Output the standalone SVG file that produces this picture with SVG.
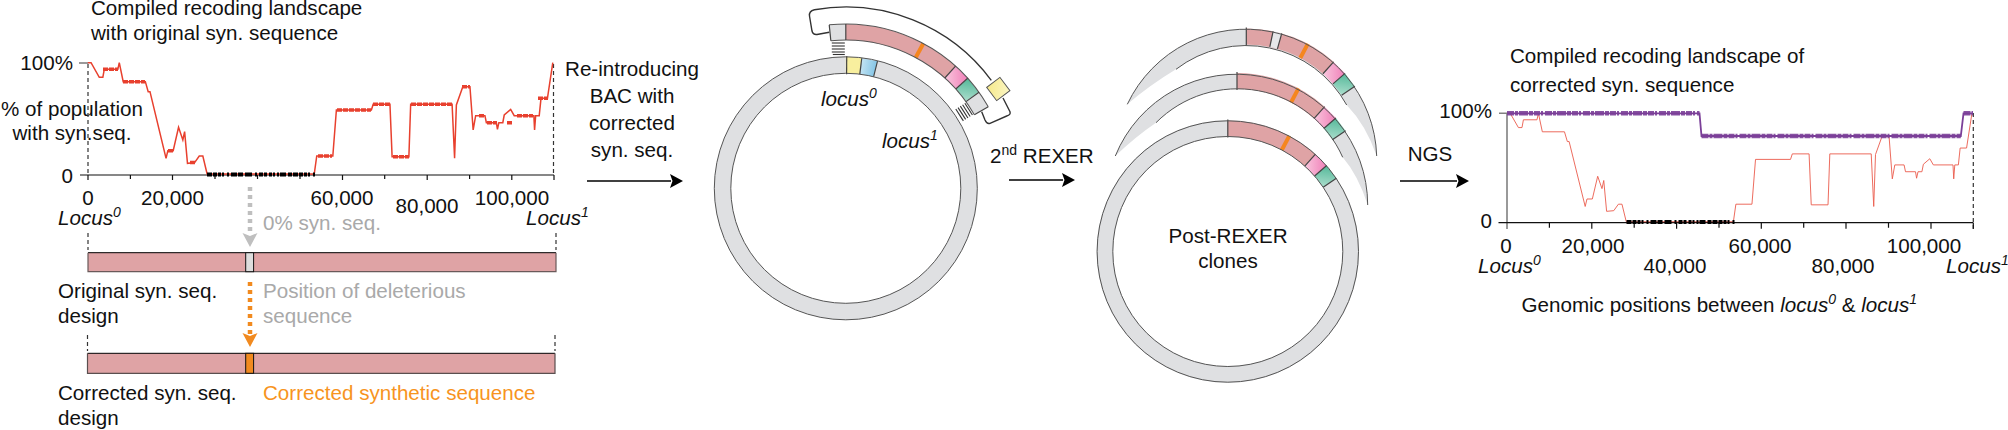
<svg xmlns="http://www.w3.org/2000/svg" xmlns:xlink="http://www.w3.org/1999/xlink" width="2008" height="430" viewBox="0 0 2008 430">
<style>
text{font-family:"Liberation Sans",Arial,sans-serif;font-size:20.6px;fill:#111}
.it{font-style:italic}
.gt{fill:#a9a9a9}
.ot{fill:#f7941e}
.m{text-anchor:middle}
.e{text-anchor:end}
.red{fill:none;stroke:#e8402e;vector-effect:non-scaling-stroke}
.seg{fill:none}
.edge{fill:none;stroke:#555;stroke-width:1}
.sep{stroke:#444;stroke-width:1.2}
.ax{stroke:#111;stroke-width:1.2;fill:none}
.dash{stroke:#333;stroke-width:1.2;stroke-dasharray:4 3;fill:none}
.gax{stroke:#808080;stroke-width:1.6;fill:none}
.ring{fill:none;stroke:#dfe0e2;stroke-width:16.5}
.bar{fill:#dfa3a5}
.arrow{stroke:#000;stroke-width:1.6;fill:none;marker-end:url(#ah)}
</style>
<defs>
<marker id="ah" markerUnits="userSpaceOnUse" markerWidth="14" markerHeight="16" refX="1" refY="7.5" orient="auto"><path d="M0 0.5L13 7.5L0 14.5L2.5 7.5Z" fill="#000"/></marker>
<marker id="gh" markerUnits="userSpaceOnUse" markerWidth="16" markerHeight="16" refX="1" refY="8" orient="auto"><path d="M0 0.5L14 8L0 15.5L3 8Z" fill="#bfbfbf"/></marker>
<marker id="oh" markerUnits="userSpaceOnUse" markerWidth="16" markerHeight="16" refX="1" refY="8" orient="auto"><path d="M0 0.5L14 8L0 15.5L3 8Z" fill="#f18a1f"/></marker>
<linearGradient id="pk" x1="1" y1="0" x2="0" y2="1"><stop offset="0" stop-color="#f07fb8"/><stop offset="1" stop-color="#f9c9de"/></linearGradient>
<linearGradient id="gr" x1="0" y1="0" x2="1" y2="1"><stop offset="0" stop-color="#54b899"/><stop offset="1" stop-color="#aedfce"/></linearGradient>
<linearGradient id="bl" x1="0" y1="0" x2="1" y2="0"><stop offset="0" stop-color="#c4e4f3"/><stop offset="1" stop-color="#84c5e6"/></linearGradient>
<linearGradient id="yl" x1="0" y1="0" x2="1" y2="1"><stop offset="0" stop-color="#f6e98a"/><stop offset="1" stop-color="#fbf6c4"/></linearGradient>
<path id="blk" d="M-8 -130.7L8 -130.7L7 -114.8L-7 -114.8Z"/>
<path id="blkI" d="M-8.6 -163.8L8.6 -163.8L7.75 -147.8L-7.75 -147.8Z"/>
<path id="landscape" class="red" d="M246 188L255 188L278 232L288 232L292 208L330 208L334 188L345 245L407 245L415 275L420 275L465 475L470 452L485 452L500 382L512 420L517 395L525 490L545 488L558 468L568 468L580 522L880 522L887 468L932 468L942 330L1040 330L1045 313L1092 313L1098 470L1145 470L1150 313L1266 313L1273 475L1278 315L1296 260L1316 260L1325 390L1332 347L1358 347L1362 368L1390 368L1393 388L1397 368L1408 368L1412 345L1430 328L1440 347L1495 347L1497 390L1500 347L1510 347L1515 295L1533 295L1548 188"/>
<g id="ringSegs">
<circle class="seg" r="123" stroke="#dfa3a5" stroke-width="16" pathLength="360" stroke-dasharray="42 318" transform="rotate(-90)"/>
<rect x="-2" y="-131" width="4" height="16" fill="#f5861f" transform="rotate(28)"/>
<use href="#blk" fill="url(#pk)" transform="rotate(45.5)"/>
<use href="#blk" fill="url(#gr)" transform="rotate(52.5)"/>
<g class="sep"><line y1="-132" y2="-114" /><line y1="-131" y2="-115" transform="rotate(42)"/><line y1="-131" y2="-115" transform="rotate(49)"/><line y1="-131" y2="-115" transform="rotate(56)"/></g>
</g>
</defs>
<rect width="2008" height="430" fill="#fff"/>

<g id="chart-original">
<text x="91" y="15">Compiled recoding landscape</text>
<text x="91" y="40">with original syn. sequence</text>
<text class="e" x="73" y="70">100%</text>
<text class="e" x="73" y="183">0</text>
<text class="m" x="72" y="116">% of population</text>
<text class="m" x="72" y="140">with syn.seq.</text>
<path class="gax" d="M79 63H88"/>
<path class="dash" d="M88 64V175M553.5 64V175"/>
<path class="ax" d="M80 175H554"/>
<path class="ax" d="M88 175v5M130.400 175v4M172.500 175v5M215 175v4M257.500 175v4M300 175v4M342.500 175v5M384.700 175v4M427.200 175v5M469.600 175v4M511.800 175v5M554 175v5"/>
<use href="#landscape" transform="scale(.3571 .3333)" stroke-width="1.5"/>
<path d="M103 69.300H118M123 81.700H145M168 150.700H174M190 162.500H195M318 156H332M337 110H371M373 104.300H390M393 156.700H409M411 104.300H452M462 86.700H470M479 115.700H484M487 122.700H497M507 122.700H512M517 115.700H533M538 98.300H548" fill="none" stroke="#e8402e" stroke-width="3.400" stroke-dasharray="5 1"/>
<path d="M207 174.500H315.500" fill="none" stroke="#000" stroke-width="4" stroke-dasharray="5 1 4 1 3 1 2 3 2 2 6 1 5 2 7 3 2 2 4 1 3 2 3 1 2 2 2 1 6 2 4 1"/>
<text class="m" x="88" y="205">0</text>
<text class="m" x="172.500" y="205">20,000</text>
<text class="m" x="342" y="205">60,000</text>
<text class="m" x="427" y="213">80,000</text>
<text class="m" x="512" y="205">100,000</text>
<text class="it" x="58" y="225">Locus<tspan font-size="14" dy="-8">0</tspan></text>
<text class="it" x="526" y="225">Locus<tspan font-size="14" dy="-8">1</tspan></text>
</g>

<g id="design-original">
<path class="dash" d="M88 233V250M556 233V250" stroke="#666"/>
<rect class="bar" x="88" y="252.700" width="468" height="19"/>
<path d="M88 252.700H556" stroke="#000" stroke-width="1" fill="none"/>
<path d="M88 252.700V271.700H556V252.700" stroke="#6a5a5a" stroke-width="1.200" fill="none"/>
<rect x="245.700" y="252.700" width="7.900" height="19" fill="#ddd" stroke="#111" stroke-width="1"/>
<text x="58" y="298">Original syn. seq.</text>
<text x="58" y="323">design</text>
<text class="gt" x="263" y="230">0% syn. seq.</text>
<text class="gt" x="263" y="298">Position of deleterious</text>
<text class="gt" x="263" y="323">sequence</text>
</g>

<g id="design-corrected">
<path class="dash" d="M87.500 335V351M555 335V351"/>
<rect class="bar" x="87.500" y="353.300" width="467.500" height="20"/>
<path d="M87.500 353.300H555" stroke="#000" stroke-width="1" fill="none"/>
<path d="M87.500 353.300V373.300H555V353.300" stroke="#5a4f4f" stroke-width="1.200" fill="none"/>
<rect x="245.700" y="353.300" width="7.900" height="20" fill="#f18a1f" stroke="#111" stroke-width="1"/>
<text x="58" y="400">Corrected syn. seq.</text>
<text x="58" y="425">design</text>
<text class="ot" x="263" y="400">Corrected synthetic sequence</text>
</g>

<g id="connectors">
<path d="M250 187V234" stroke="#bfbfbf" stroke-width="4.500" stroke-dasharray="4 4" fill="none" marker-end="url(#gh)"/>
<path d="M250 282V334" stroke="#f18a1f" stroke-width="4.500" stroke-dasharray="4 4" fill="none" marker-end="url(#oh)"/>
<path class="arrow" d="M587 181H671"/>
<path class="arrow" d="M1009 180H1063"/>
<path class="arrow" d="M1400 181H1457"/>
</g>

<g id="label-reintroducing">
<text class="m" x="632" y="76">Re-introducing</text>
<text class="m" x="632" y="103">BAC with</text>
<text class="m" x="632" y="130">corrected</text>
<text class="m" x="632" y="157">syn. seq.</text>
</g>
<g id="label-rexer"><text x="990" y="163">2<tspan font-size="14" dy="-8">nd</tspan><tspan dy="8"> REXER</tspan></text></g>
<g id="label-ngs"><text class="m" x="1430" y="161">NGS</text></g>

<g id="genome-ring" transform="translate(845.8 188.300)">
<circle class="ring" r="123.250"/>
<circle class="seg" r="123.250" stroke="#f8ef9e" stroke-width="16.500" pathLength="360" stroke-dasharray="7 353" transform="rotate(-90)"/>
<use href="#blk" fill="url(#bl)" transform="rotate(10.500)"/>
<circle class="edge" r="131.500"/>
<circle class="edge" r="115"/>
<g class="sep"><line y1="-132" y2="-114" transform="rotate(0.400)"/><line y1="-131" y2="-115" transform="rotate(7)"/><line y1="-131" y2="-115" transform="rotate(14)"/></g>
</g>
<g id="bac-insert" transform="translate(845.8 188)">
<circle class="seg" r="156" stroke="#dfe0e2" stroke-width="16" pathLength="360" stroke-dasharray="5.800 354.200" transform="rotate(-95.800)"/>
<circle class="seg" r="156" stroke="#dfa3a5" stroke-width="16" pathLength="360" stroke-dasharray="42 318" transform="rotate(-90)"/>
<circle class="seg" r="156" stroke="#dfe0e2" stroke-width="16" pathLength="360" stroke-dasharray="6 354" transform="rotate(-35.700)"/>
<use href="#blkI" fill="url(#pk)" transform="rotate(45)"/>
<use href="#blkI" fill="url(#gr)" transform="rotate(51.150)"/>
<rect x="-2" y="-164" width="4" height="16" fill="#f5861f" transform="rotate(28.200)"/>
<circle class="edge" r="164" pathLength="360" stroke-dasharray="66.100 293.900" transform="rotate(-95.800)"/>
<circle class="edge" r="148" pathLength="360" stroke-dasharray="66.100 293.900" transform="rotate(-95.800)"/>
<g class="sep"><line y1="-164" y2="-148" transform="rotate(-5.800)"/><line y1="-164" y2="-148"/><line y1="-164" y2="-148" transform="rotate(42)"/><line y1="-164" y2="-148" transform="rotate(48)"/><line y1="-164" y2="-148" transform="rotate(54.300)"/><line y1="-164" y2="-148" transform="rotate(60.300)"/></g>
<g stroke="#333" stroke-width="1.100">
<line x1="-14" x2="-1" y1="-145" y2="-145"/><line x1="-14" x2="-1" y1="-142" y2="-142"/><line x1="-14" x2="-1" y1="-139" y2="-139"/><line x1="-14" x2="-1" y1="-136" y2="-136"/><line x1="-13" x2="-1" y1="-133.500" y2="-133.500"/>
<g transform="rotate(57.300)"><line x1="-7" x2="7" y1="-146" y2="-146"/><line x1="-7" x2="7" y1="-143.300" y2="-143.300"/><line x1="-7" x2="7" y1="-140.600" y2="-140.600"/><line x1="-7" x2="7" y1="-137.900" y2="-137.900"/><line x1="-7" x2="7" y1="-135.200" y2="-135.200"/></g>
</g>
</g>
<g id="bac-backbone">
<path d="M829.300 32.300L817 34.500Q813 35 812 31L809.500 16Q808.800 11 814.400 9.700A181 181 0 0 1 991.300 80.300" fill="none" stroke="#333" stroke-width="1.400"/>
<path d="M1003 98L1010 111.700Q1011 115 1006.700 116L990 123.300Q987 124.500 985 120L981.700 111.700" fill="none" stroke="#333" stroke-width="1.400"/>
<rect x="-8.300" y="-8.300" width="16.600" height="16.600" fill="url(#yl)" stroke="#555" stroke-width="1" transform="translate(998.300 89) rotate(-37)"/>
</g>
<g id="locus-labels">
<text class="it" x="821" y="106">locus<tspan font-size="14" dy="-8">0</tspan></text>
<text class="it" x="882" y="148">locus<tspan font-size="14" dy="-8">1</tspan></text>
</g>

<g id="clone-back">
<path d="M1127.300 104.300A131 131 0 0 1 1376.700 156Q1366 125 1346.700 105A115 115 0 0 0 1176 69.300Q1150 85 1127.300 104.300Z" fill="#dfe0e2"/>
<g transform="translate(1246.300 159.500)">
<circle class="seg" r="123" stroke="#dfa3a5" stroke-width="16" pathLength="360" stroke-dasharray="41.800 318.200" transform="rotate(-90)"/>
<circle class="seg" r="123" stroke="#e6e7e9" stroke-width="16" pathLength="360" stroke-dasharray="3.900 356.100" transform="rotate(-78.200)"/>
<rect x="-2" y="-131" width="4" height="16" fill="#f5861f" transform="rotate(28)"/>
<use href="#blk" fill="url(#pk)" transform="rotate(45.350)"/>
<use href="#blk" fill="url(#gr)" transform="rotate(52.450)"/>
<g class="sep"><line y1="-132" y2="-114"/><line y1="-131" y2="-115" transform="rotate(11.800)"/><line y1="-131" y2="-115" transform="rotate(15.700)"/><line y1="-131" y2="-115" transform="rotate(41.800)"/><line y1="-131" y2="-115" transform="rotate(48.900)"/><line y1="-131" y2="-115" transform="rotate(56)"/></g>
</g>
<path class="edge" d="M1127.300 104.300A131 131 0 0 1 1376.700 156M1346.700 105A115 115 0 0 0 1176 69.300"/>
</g>
<g id="clone-mid">
<path d="M1115.300 156A131 131 0 0 1 1367.700 205Q1358 175 1342.700 157.300A115 115 0 0 0 1156 122.700Q1135 137 1115.300 156Z" fill="#dfe0e2"/>
<use href="#ringSegs" transform="translate(1237 204)"/>
<path class="edge" d="M1115.300 156A131 131 0 0 1 1367.700 205M1342.700 157.300A115 115 0 0 0 1156 122.700"/>
</g>
<g id="clone-front">
<circle class="ring" cx="1227.800" cy="251.500" r="123"/>
<use href="#ringSegs" transform="translate(1227.800 251.500)"/>
<circle class="edge" cx="1227.800" cy="251.500" r="130.700"/>
<circle class="edge" cx="1227.800" cy="251.500" r="115"/>
<text class="m" x="1228" y="243">Post-REXER</text>
<text class="m" x="1228" y="268">clones</text>
</g>

<g id="chart-corrected">
<text x="1510" y="63">Compiled recoding landscape of</text>
<text x="1510" y="92">corrected syn. sequence</text>
<text class="e" x="1492" y="118">100%</text>
<text class="e" x="1492" y="228">0</text>
<path class="gax" d="M1499 113.300H1507V229"/>
<path class="dash" d="M1973.300 113V229"/>
<path class="ax" d="M1498.500 222.700H1973.300"/>
<path class="ax" d="M1549.400 222.700v5M1591.800 222.700v6M1634.200 222.700v5M1676.600 222.700v6M1719 222.700v5M1761.300 222.700v6M1803.700 222.700v5M1846 222.700v6M1888.500 222.700v5M1931 222.700v6M1973.300 222.700v6"/>
<use href="#landscape" transform="translate(1419.140 52.280) scale(.3571 .3246)" stroke-width=".9" opacity=".85"/>
<path d="M1626.500 222H1735" fill="none" stroke="#000" stroke-width="4" stroke-dasharray="5 1 4 1 3 1 2 3 2 2 6 1 5 2 7 3 2 2 4 1 3 2 3 1 2 2 2 1 6 2 4 1"/>
<path d="M1507 113.300H1699.500L1701.500 136H1960.800L1963.500 113.300H1973" fill="none" stroke="#7b3f98" stroke-width="1.800"/>
<path d="M1507 113.300H1699.500M1701.500 136H1960.800M1963.500 113.300H1973" fill="none" stroke="#7b3f98" stroke-width="4.500" stroke-dasharray="7 1 3 1 9 1 4 1 6 1 2 2" opacity=".9"/>
<text class="m" x="1506" y="253">0</text>
<text class="m" x="1593" y="253">20,000</text>
<text class="m" x="1675" y="273">40,000</text>
<text class="m" x="1760" y="253">60,000</text>
<text class="m" x="1843" y="273">80,000</text>
<text class="m" x="1924" y="253">100,000</text>
<text class="it" x="1478" y="273">Locus<tspan font-size="14" dy="-8">0</tspan></text>
<text class="it" x="1946" y="273">Locus<tspan font-size="14" dy="-8">1</tspan></text>
<text x="1521.500" y="312">Genomic positions between <tspan class="it">locus</tspan><tspan class="it" font-size="14" dy="-8">0</tspan><tspan dy="8"> &amp; </tspan><tspan class="it">locus</tspan><tspan class="it" font-size="14" dy="-8">1</tspan></text>
</g>
</svg>
